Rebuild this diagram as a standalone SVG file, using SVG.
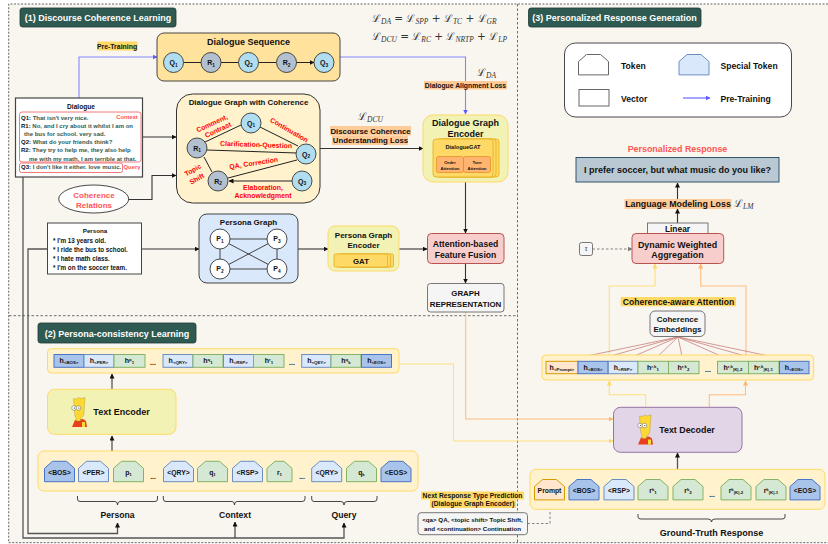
<svg xmlns="http://www.w3.org/2000/svg" xmlns:xlink="http://www.w3.org/1999/xlink" width="828" height="544" viewBox="0 0 828 544">
<style>
text{font-family:"Liberation Sans",Arial,sans-serif;font-weight:700;fill:#111;text-anchor:middle}
.title{fill:#fff;font-size:9px}
.tbox{fill:#2f5a52;stroke:#1d3b36;stroke-width:.8}
.l{text-anchor:start}
.panel{fill:#fff2cc;stroke:#ffd966;stroke-width:1}
.y{fill:#f1f2b4;stroke:#ffd966;stroke-width:1}
.gold{fill:#ffd966;stroke:#e6ac1a;stroke-width:.8}
.pink{fill:#f8cecc;stroke:#b85450;stroke-width:1}
.gray{fill:#f5f5f5;stroke:#777;stroke-width:1}
.q{fill:#b1ddf0;stroke:#222;stroke-width:.8}
.r{fill:#b3c0d0;stroke:#222;stroke-width:.8}
.p{fill:#fff;stroke:#222;stroke-width:.8}
.n{font-size:7px}
.red{fill:#f00;font-size:6.9px}
.rs{fill:#f55}
.e{fill:none;stroke:#222;stroke-width:1;marker-end:url(#k)}
.pe{fill:none;stroke:#444;stroke-width:1}
.c{fill:none;stroke:#333;stroke-width:1.100;marker-end:url(#k)}
.c2{fill:none;stroke:#555;stroke-width:1.300}
.blue{fill:none;stroke:#8585ff;stroke-width:1.100;marker-end:url(#b)}
.oran{fill:none;stroke:#ffbe80;stroke-width:1.100;marker-end:url(#o)}
.yel{fill:none;stroke:#ffdf80;stroke-width:1.100;marker-end:url(#yy)}
.dash{fill:none;stroke:#777;stroke-width:.9;stroke-dasharray:2.5 2;marker-end:url(#g)}
.hl{fill:#ffcc99}
.hy{fill:#ffd966}
.sb{fill:#dae8fc;stroke:#6c8ebf;stroke-width:1}
.db{fill:#a9c4eb;stroke:#4a74c9;stroke-width:1}
.gr{fill:#d5e8d4;stroke:#82b366;stroke-width:1}
.or{fill:#ffe6cc;stroke:#d79b00;stroke-width:1}
.t{font-size:6.800px}
.v{font-size:7px}
.s{font-size:4.400px}
.m{font-family:"DejaVu Serif","Liberation Serif",serif;font-weight:400;fill:#333;font-size:10.500px;text-anchor:start}
.i{font-family:"Liberation Serif",serif;font-style:italic;font-weight:400;font-size:7.500px;fill:#333}
.d{font-size:6px;text-anchor:start;fill:#2f5a52}
.dk{fill:#111}
.brace{fill:none;stroke:#333;stroke-width:.9}
.red2{fill:none;stroke:#c9807c;stroke-width:.8}
</style>
<defs>
<marker id="k" markerWidth="5" markerHeight="5" refX="4.5" refY="2.5" orient="auto" markerUnits="userSpaceOnUse"><path d="M0 0L5 2.5L0 5Z" fill="#111"/></marker>
<marker id="b" markerWidth="5" markerHeight="5" refX="4.5" refY="2.5" orient="auto" markerUnits="userSpaceOnUse"><path d="M0 0L5 2.5L0 5Z" fill="#5c5cff"/></marker>
<marker id="o" markerWidth="5" markerHeight="5" refX="4.5" refY="2.5" orient="auto" markerUnits="userSpaceOnUse"><path d="M0 0L5 2.5L0 5Z" fill="#ffb570"/></marker>
<marker id="yy" markerWidth="5" markerHeight="5" refX="4.5" refY="2.5" orient="auto" markerUnits="userSpaceOnUse"><path d="M0 0L5 2.5L0 5Z" fill="#ffd966"/></marker>
<marker id="g" markerWidth="5" markerHeight="5" refX="4.5" refY="2.5" orient="auto" markerUnits="userSpaceOnUse"><path d="M0 0L5 2.5L0 5Z" fill="#777"/></marker>
<path id="tok" d="M0 20.4V7L8 0H22L30 7V20.4Z"/>
<g id="bart">
<path d="M4 23L12 22L15 24L16 30H1Z" fill="#e8401c"/>
<path d="M11 25H14V30H11Z" fill="#fdd835"/>
<path d="M2.500 1.500L5 2L8 .5L10 1.500L14 .5L13 16C13 19 11 21 9.500 21.500V24H5V21C4 20 3.500 17 3.500 14Z" fill="#fdd835" stroke="#8a7a2a" stroke-width=".3"/>
<circle cx="3" cy="11" r="2.300" fill="#fff" stroke="#444" stroke-width=".4"/><circle cx="7.500" cy="11" r="2.300" fill="#fff" stroke="#444" stroke-width=".4"/>
<circle cx="3.300" cy="11" r=".6" fill="#222"/><circle cx="7.800" cy="11" r=".6" fill="#222"/>
</g>
</defs>
<rect x="9" y="4" width="819" height="539" fill="#f9f6ef"/>
<path d="M828 4H8.700V542.700H828" fill="none" stroke="#666" stroke-width="1" stroke-dasharray="2 1.500"/>
<path d="M517.500 4V544M9 315.700H517.500" fill="none" stroke="#333" stroke-width=".7" stroke-dasharray="2.500 2"/>

<g id="section-titles">
<g id="title1"><rect class="tbox" x="20" y="8" width="156" height="19" rx="2.500"/><text class="title" x="98" y="21">(1) Discourse Coherence Learning</text></g>
<g id="title2"><rect class="tbox" x="38" y="323" width="158" height="20" rx="2.500"/><text class="title" x="117" y="336.500">(2) Persona-consistency Learning</text></g>
<g id="title3"><rect class="tbox" x="528.500" y="8" width="172.500" height="19" rx="2.500"/><text class="title" x="614.500" y="21">(3) Personalized Response Generation</text></g>
</g>

<g id="formulas">
<text class="m" x="372" y="22">ℒ<tspan class="i" dy="2">DA</tspan><tspan dy="-2"> = ℒ</tspan><tspan class="i" dy="2">SPP</tspan><tspan dy="-2"> + ℒ</tspan><tspan class="i" dy="2">TC</tspan><tspan dy="-2"> + ℒ</tspan><tspan class="i" dy="2">GR</tspan></text>
<text class="m" x="372" y="40">ℒ<tspan class="i" dy="2">DCU</tspan><tspan dy="-2"> = ℒ</tspan><tspan class="i" dy="2">RC</tspan><tspan dy="-2"> + ℒ</tspan><tspan class="i" dy="2">NRTP</tspan><tspan dy="-2"> + ℒ</tspan><tspan class="i" dy="2">LP</tspan></text>
<text class="m" x="477" y="76">ℒ<tspan class="i" dy="2">DA</tspan></text>
<text class="m" x="358" y="120">ℒ<tspan class="i" dy="2">DCU</tspan></text>
</g>

<g id="connectors">
<path class="blue" d="M79 98V57H157"/>
<path class="blue" d="M340 57H465.500V114"/>
<path class="c" d="M142.500 137H176"/>
<path class="c" d="M129 199.500H152V175.500H176"/>
<path class="c" d="M320 148.500H423"/>
<path class="c" d="M465.500 182V233"/>
<path class="c" d="M465.500 263.500V283"/>
<path class="c" d="M141.500 249H199"/>
<path class="c" d="M298 249H328"/>
<path class="c" d="M399 249H427"/>
<path class="c2" d="M47.500 249H28V533.500H117.500V523" marker-end="url(#k)"/>
<path class="c2" d="M23 177V538H344V523" marker-end="url(#k)"/>
<path class="c" d="M235 538V522"/>
<path class="oran" d="M465.700 312V419H613"/>
<path class="yel" d="M399 364H453.500V441H613"/>
<path class="c2" d="M112 451V436" marker-end="url(#k)"/>
<path class="c2" d="M112 389V374" marker-end="url(#k)"/>
<path class="c2" d="M677.500 469V453" marker-end="url(#k)"/>
<path class="c" d="M677.500 223V209"/>
<path class="c" d="M677.500 199V183"/>
<path class="dash" d="M527.500 523.500H550V500.500"/>
<path class="dash" d="M592.500 249H632"/>
<path class="yel" d="M645.700 407V394.700H609.300V381"/>
<path class="oran" d="M709.300 407V394.700H745.500V381"/>
<path class="yel" d="M609.300 355V286H655V264"/>
<path class="oran" d="M746 355V286H700.700V264"/>
<path class="red2" d="M678 337L563 361M678 337L593 361M678 337L623 361M678 337L653 361M678 337L683 361M678 337L732 361M678 337L763 361M678 337L793 361"/>
</g>

<g id="pre-training-label"><rect class="hy" x="97" y="41.500" width="40.500" height="9"/><text x="117" y="48.500" font-size="6.900">Pre-Training</text></g>

<g id="dialogue-sequence">
<rect x="157" y="33" width="183" height="48" rx="7" fill="#ffe29c" stroke="#333" stroke-width=".9"/>
<text x="248.500" y="44.500" font-size="9">Dialogue Sequence</text>
<path class="e" d="M183.500 62.500H201M221 62.500H238.500M258.500 62.500H276M296 62.500H314"/>
<circle class="q" cx="173.500" cy="62.500" r="10"/><circle class="r" cx="211" cy="62.500" r="10"/><circle class="q" cx="248.500" cy="62.500" r="10"/><circle class="r" cx="286.500" cy="62.500" r="10"/><circle class="q" cx="324" cy="62.500" r="10"/>
<text class="n" x="173.500" y="65">Q<tspan font-size="4.800" dy="1.500">1</tspan></text><text class="n" x="211" y="65">R<tspan font-size="4.800" dy="1.500">1</tspan></text><text class="n" x="248.500" y="65">Q<tspan font-size="4.800" dy="1.500">2</tspan></text><text class="n" x="286.500" y="65">R<tspan font-size="4.800" dy="1.500">2</tspan></text><text class="n" x="324" y="65">Q<tspan font-size="4.800" dy="1.500">3</tspan></text>
</g>

<g id="dialogue-alignment-label"><rect class="hl" x="424" y="81" width="83" height="8.500"/><text x="465.500" y="87.800" font-size="6.800">Dialogue Alignment Loss</text></g>

<g id="dialogue">
<rect x="15.500" y="98" width="127" height="79" fill="#fff" stroke="#444" stroke-width="1.200"/>
<text x="81" y="108.500" font-size="6.600">Dialogue</text>
<rect x="19.500" y="112" width="121.500" height="50" rx="2.500" fill="none" stroke="#f06a6a" stroke-width=".9"/>
<rect x="19.500" y="163" width="103" height="9.500" rx="2" fill="none" stroke="#f06a6a" stroke-width=".9"/>
<text class="d" x="21" y="119.500"><tspan class="dk">Q1:</tspan> That isn't very nice.</text>
<text class="d" x="21" y="127.700"><tspan class="dk">R1:</tspan> No, and I cry about it whilst I am on</text>
<text class="d" x="24" y="136">the bus for school. very sad.</text>
<text class="d" x="21" y="144"><tspan class="dk">Q2:</tspan> What do your friends think?</text>
<text class="d" x="21" y="152.300"><tspan class="dk">R2:</tspan> They try to help me, they also help</text>
<text class="d" x="29" y="160.500">me with my math, I am terrible at that.</text>
<text class="d" x="21" y="169.200"><tspan class="dk">Q3:</tspan> I don't like it either. love music.</text>
<text class="rs" x="127" y="119.300" font-size="5.800">Context</text>
<text class="rs" x="132" y="169.200" font-size="5.800">Query</text>
</g>

<g id="coherence-relations">
<ellipse cx="93.700" cy="199" rx="35" ry="14" fill="#fff" stroke="#333" stroke-width=".9"/>
<text class="rs" x="94" y="197.500" font-size="8">Coherence</text><text class="rs" x="94" y="207.500" font-size="8">Relations</text>
</g>

<g id="dialogue-graph">
<rect x="176.500" y="94" width="143.500" height="109" rx="16" fill="#fff2cc" stroke="#333" stroke-width="1"/>
<text x="248.500" y="104.500" font-size="7.900">Dialogue Graph with Coherence</text>
<path class="e" d="M205 142L241 125M298 146L260 127M297 153L207 150M228 178L297 160M212 172L204 157M292 181L229 181"/>
<circle class="q" cx="251" cy="123" r="10"/><circle class="r" cx="197" cy="148" r="10"/><circle class="q" cx="306" cy="154" r="10"/><circle class="r" cx="218" cy="181" r="10"/><circle class="q" cx="302" cy="181" r="10"/>
<text class="n" x="251" y="125.500">Q<tspan font-size="4.800" dy="1.500">1</tspan></text><text class="n" x="197" y="150.500">R<tspan font-size="4.800" dy="1.500">1</tspan></text><text class="n" x="306" y="156.500">Q<tspan font-size="4.800" dy="1.500">2</tspan></text><text class="n" x="218" y="183.500">R<tspan font-size="4.800" dy="1.500">2</tspan></text><text class="n" x="302" y="183.500">Q<tspan font-size="4.800" dy="1.500">3</tspan></text>
<text class="red" transform="translate(213,125.500) rotate(-25)">Comment,</text>
<text class="red" transform="translate(219,132) rotate(-25)">Contrast</text>
<text class="red" transform="translate(288,132) rotate(30)">Continuation</text>
<text class="red" transform="translate(256,147) rotate(2)">Clarification-Question</text>
<text class="red" transform="translate(254,165.500) rotate(-9)">QA, Correction</text>
<text class="red" transform="translate(194,172) rotate(-30)">Topic</text>
<text class="red" transform="translate(198,181) rotate(-30)">Shift</text>
<text class="red" x="263" y="189.500">Elaboration,</text>
<text class="red" x="263" y="197.800">Acknowledgment</text>
</g>

<g id="dcu-label"><rect class="hl" x="330" y="126" width="81" height="9.500"/><rect class="hl" x="332" y="135.500" width="76" height="9.500"/><text x="370.500" y="133.500" font-size="7.800">Discourse Coherence</text><text x="370.500" y="143" font-size="7.800">Understanding Loss</text></g>

<g id="dialogue-graph-encoder">
<rect class="y" x="423" y="115" width="85" height="67" rx="10"/>
<text x="465.500" y="125.500" font-size="9">Dialogue Graph</text><text x="465.500" y="137" font-size="9">Encoder</text>
<rect class="gold" x="439" y="139" width="60" height="38" rx="3"/><rect class="gold" x="436" y="139" width="60" height="38" rx="3"/><rect class="gold" x="433" y="139" width="60" height="38" rx="3"/>
<text x="463" y="148.500" font-size="5.600">DialogueGAT</text>
<rect x="436.500" y="156.500" width="27" height="16" rx="2" fill="#ffb570" stroke="#e08a1e" stroke-width=".7"/>
<rect x="463.500" y="156.500" width="27" height="16" rx="2" fill="#ffb570" stroke="#e08a1e" stroke-width=".7"/>
<text x="450" y="163.500" font-size="4.300">Order</text><text x="450" y="169.500" font-size="4.300">Attention</text>
<text x="477" y="163.500" font-size="4.300">Turn</text><text x="477" y="169.500" font-size="4.300">Attention</text>
</g>

<g id="persona">
<rect x="47.500" y="223" width="94" height="51" fill="#fff" stroke="#444" stroke-width="1"/>
<text x="95" y="232.500" font-size="6.200">Persona</text>
<text class="l" x="53" y="243" font-size="6.300">* I'm 13 years old.</text>
<text class="l" x="53" y="252" font-size="6.300">* I ride the bus to school.</text>
<text class="l" x="53" y="261" font-size="6.300">* I hate math class.</text>
<text class="l" x="53" y="270" font-size="6.300">* I'm on the soccer team.</text>
</g>

<g id="persona-graph">
<rect x="199" y="214" width="99" height="69" rx="8" fill="#dae8fc" stroke="#444" stroke-width="1"/>
<text x="248.500" y="224.500" font-size="8">Persona Graph</text>
<path class="pe" d="M220 239H277M220 239V269M277 239V269M220 269H277M220 239L277 269M220 269L277 239"/>
<circle class="p" cx="220" cy="239" r="10"/><circle class="p" cx="277" cy="239" r="10"/><circle class="p" cx="220" cy="269" r="10"/><circle class="p" cx="277" cy="269" r="10"/>
<text class="n" x="220" y="241">P<tspan font-size="4.800" dy="1.500">1</tspan></text><text class="n" x="277" y="241">P<tspan font-size="4.800" dy="1.500">3</tspan></text><text class="n" x="220" y="271">P<tspan font-size="4.800" dy="1.500">2</tspan></text><text class="n" x="277" y="271">P<tspan font-size="4.800" dy="1.500">4</tspan></text>
</g>

<g id="persona-graph-encoder">
<rect class="y" x="328" y="226" width="71" height="45" rx="7"/>
<text x="363.500" y="237.500" font-size="8">Persona Graph</text><text x="363.500" y="247.500" font-size="8">Encoder</text>
<rect class="gold" x="340" y="254" width="53.500" height="13" rx="1.500"/><rect class="gold" x="337" y="254" width="53.500" height="13" rx="1.500"/><rect class="gold" x="334" y="254" width="53.500" height="13" rx="1.500"/>
<text x="361" y="263.500" font-size="7.800">GAT</text>
</g>

<g id="feature-fusion"><rect class="pink" x="427.500" y="233.500" width="76.500" height="30" rx="4"/><text x="465.500" y="247" font-size="8.600">Attention-based</text><text x="465.500" y="257.500" font-size="8.600">Feature Fusion</text></g>
<g id="graph-representation"><rect class="gray" x="427.500" y="283.500" width="76.500" height="28.500" rx="3"/><text x="465.500" y="295.500" font-size="7.900">GRAPH</text><text x="465.500" y="306.500" font-size="7.900">REPRESENTATION</text></g>

<g id="persona-vectors">
<rect class="panel" x="47.500" y="348.700" width="351.500" height="24.300" rx="4"/>
<rect class="db" x="54" y="354.500" width="30" height="12.800"/><rect class="sb" x="84" y="354.500" width="30" height="12.800"/><rect class="gr" x="114" y="354.500" width="31" height="12.800"/>
<rect class="sb" x="163" y="354.500" width="30" height="12.800"/><rect class="gr" x="193" y="354.500" width="30" height="12.800"/><rect class="sb" x="223.500" y="354.500" width="30" height="12.800"/><rect class="gr" x="253.500" y="354.500" width="30.500" height="12.800"/>
<rect class="sb" x="301.700" y="354.500" width="29.300" height="12.800"/><rect class="gr" x="331" y="354.500" width="30" height="12.800"/><rect class="db" x="361.500" y="354.500" width="30" height="12.800"/>
<text class="v" x="69" y="362.500">h<tspan class="s" dy="1.500">&lt;BOS&gt;</tspan></text>
<text class="v" x="99" y="362.500">h<tspan class="s" dy="1.500">&lt;PER&gt;</tspan></text>
<text class="v" x="129.500" y="362.500">h<tspan class="s" dy="-1.500">p</tspan><tspan class="s" dy="3">1</tspan></text>
<text class="v" x="153" y="365">...</text>
<text class="v" x="178" y="362.500">h<tspan class="s" dy="1.500">&lt;QRY&gt;</tspan></text>
<text class="v" x="208" y="362.500">h<tspan class="s" dy="-1.500">q</tspan><tspan class="s" dy="3">1</tspan></text>
<text class="v" x="238.500" y="362.500">h<tspan class="s" dy="1.500">&lt;RSP&gt;</tspan></text>
<text class="v" x="269" y="362.500">h<tspan class="s" dy="-1.500">r</tspan><tspan class="s" dy="3">1</tspan></text>
<text class="v" x="292" y="365">...</text>
<text class="v" x="316.500" y="362.500">h<tspan class="s" dy="1.500">&lt;QEY&gt;</tspan></text>
<text class="v" x="346" y="362.500">h<tspan class="s" dy="-1.500">q</tspan><tspan class="s" dy="3">k</tspan></text>
<text class="v" x="376.500" y="362.500">h<tspan class="s" dy="1.500">&lt;EOS&gt;</tspan></text>
</g>

<g id="text-encoder"><rect class="y" x="47.500" y="389.300" width="128.500" height="45" rx="7"/><use xlink:href="#bart" href="#bart" x="71" y="397"/><text x="121.500" y="415" font-size="9">Text Encoder</text></g>

<g id="input-tokens">
<rect class="panel" x="38" y="451" width="380" height="40" rx="6"/>
<use class="db" href="#tok" xlink:href="#tok" x="44.500" y="461.300"/><use class="sb" href="#tok" xlink:href="#tok" x="78.500" y="461.300"/><use class="gr" href="#tok" xlink:href="#tok" x="113.500" y="461.300"/>
<use class="sb" href="#tok" xlink:href="#tok" x="163.500" y="461.300"/><use class="gr" href="#tok" xlink:href="#tok" x="197.500" y="461.300"/><use class="sb" href="#tok" xlink:href="#tok" x="232.500" y="461.300"/>
<path class="gr" d="M267 481.700V468.300L275 461.300H284L292 468.300V481.700Z"/>
<use class="sb" href="#tok" xlink:href="#tok" x="311.700" y="461.300"/><use class="gr" href="#tok" xlink:href="#tok" x="346.500" y="461.300"/><use class="db" href="#tok" xlink:href="#tok" x="381" y="461.300"/>
<text class="t" x="59.500" y="474.800">&lt;BOS&gt;</text><text class="t" x="93.500" y="474.800">&lt;PER&gt;</text><text class="t" x="128.500" y="474.500">p<tspan class="s" dy="1">1</tspan></text><text class="t" x="153" y="479">...</text>
<text class="t" x="178.500" y="474.800">&lt;QRY&gt;</text><text class="t" x="212.500" y="474.500">q<tspan class="s" dy="1">1</tspan></text><text class="t" x="247.500" y="474.800">&lt;RSP&gt;</text><text class="t" x="279.500" y="474.500">r<tspan class="s" dy="1">1</tspan></text><text class="t" x="302" y="479">...</text>
<text class="t" x="326.700" y="474.800">&lt;QRY&gt;</text><text class="t" x="361.500" y="474.500">q<tspan class="s" dy="1">k</tspan></text><text class="t" x="396" y="474.800">&lt;EOS&gt;</text>
</g>

<g id="braces">
<path class="brace" d="M77.500 496V499Q77.500 501.500 80 501.500H115Q117.500 501.500 117.500 505Q117.500 501.500 120 501.500H155Q157.500 501.500 157.500 499V496"/>
<path class="brace" d="M163.300 496V499Q163.300 501.500 166 501.500H232Q234.500 501.500 234.500 505Q234.500 501.500 237 501.500H302Q305 501.500 305 499V496"/>
<path class="brace" d="M311.700 496V499Q311.700 501.500 314 501.500H341Q344 501.500 344 505Q344 501.500 347 501.500H374Q377 501.500 377 499V496"/>
<path class="brace" d="M638 514V517Q638 519 641 519H708Q711.500 519 711.500 522Q711.500 519 715 519H782Q785 519 785 517V514"/>
</g>
<g id="persona-input"><text x="117.500" y="518" font-size="8.600">Persona</text></g>
<g id="context-input"><text x="235" y="518" font-size="8.600">Context</text></g>
<g id="query-input"><text x="344" y="518" font-size="8.600">Query</text></g>

<g id="next-response">
<rect class="hy" x="421" y="491.500" width="103" height="8"/><rect class="hy" x="430" y="499.500" width="86" height="8.500"/>
<text x="472.500" y="497.800" font-size="6.700">Next Response Type Prediction</text><text x="473" y="506" font-size="6.700">(Dialogue Graph Encoder)</text>
<rect class="gray" x="418" y="512.700" width="109.500" height="22" rx="3"/>
<text x="472.500" y="521.500" font-size="6.200">&lt;qa&gt; QA, &lt;topic shift&gt; Topic Shift,</text><text x="472.500" y="530.500" font-size="6.200">and &lt;continuation&gt; Continuation</text>
</g>

<g id="legend">
<rect x="564.500" y="43" width="227" height="74" rx="11" fill="#fff" stroke="#333" stroke-width=".9"/>
<use href="#tok" xlink:href="#tok" x="578.500" y="54.500" fill="#fff" stroke="#666"/>
<use class="sb" href="#tok" xlink:href="#tok" x="679" y="54.500"/>
<rect x="579" y="89.500" width="30" height="16.500" fill="#fff" stroke="#666"/>
<path class="blue" style="stroke:#5c5cff" d="M683 98H710"/>
<text class="l" x="621" y="69" font-size="8.600">Token</text><text class="l" x="720.500" y="69" font-size="8.600">Special Token</text>
<text class="l" x="621" y="102" font-size="8.600">Vector</text><text class="l" x="720.500" y="101.500" font-size="8.600">Pre-Training</text>
</g>

<g id="personalized-response">
<text class="rs" x="677.500" y="151.500" font-size="8.900">Personalized Response</text>
<rect x="576" y="157.500" width="203" height="24.500" fill="#bac8d3" stroke="#23445d" stroke-width=".9"/>
<text x="677.500" y="173" font-size="9">I prefer soccer, but what music do you like?</text>
</g>

<g id="lm-loss"><rect class="hl" x="624.500" y="199" width="107" height="10"/><text x="678" y="207" font-size="8.800">Language Modeling Loss</text><text class="m" x="734" y="207">ℒ<tspan class="i" dy="2">LM</tspan></text></g>

<g id="linear"><rect class="gray" x="647.500" y="223" width="60.500" height="11"/><text x="677.500" y="232" font-size="8.400">Linear</text></g>
<g id="dynamic-weighted-aggregation"><rect class="pink" x="632" y="233.500" width="91.700" height="30" rx="4"/><text x="677.500" y="247.500" font-size="8.900">Dynamic Weighted</text><text x="677.500" y="258" font-size="8.900">Aggregation</text></g>
<g id="tau"><rect class="gray" x="579.500" y="242.500" width="13" height="13" rx="2"/><text class="i" x="586" y="251">τ</text></g>

<g id="coherence-attention-label"><rect class="hy" x="620.700" y="297" width="115.300" height="9.300"/><text x="678.500" y="304.700" font-size="8.600">Coherence-aware Attention</text></g>
<g id="coherence-embeddings"><rect class="gray" x="650" y="311" width="55" height="25.500" rx="5"/><text x="677.500" y="322" font-size="8">Coherence</text><text x="677.500" y="331.500" font-size="8">Embeddings</text></g>

<g id="response-vectors">
<rect class="panel" x="542" y="355" width="271.700" height="25" rx="4"/>
<rect class="or" x="546" y="361.300" width="32" height="12.400"/><rect class="db" x="578" y="361.300" width="30" height="12.400"/><rect class="sb" x="608.300" y="361.300" width="29.700" height="12.400"/><rect class="gr" x="638" y="361.300" width="30.500" height="12.400"/><rect class="gr" x="668.500" y="361.300" width="30.500" height="12.400"/>
<rect class="gr" x="717.500" y="361.300" width="31" height="12.400"/><rect class="gr" x="748.500" y="361.300" width="30.500" height="12.400"/><rect class="db" x="779.500" y="361.300" width="29.500" height="12.400"/>
<text class="v" x="562" y="369.500">h<tspan class="s" dy="1.500">&lt;Prompt&gt;</tspan></text>
<text class="v" x="593" y="369.500">h<tspan class="s" dy="1.500">&lt;BOS&gt;</tspan></text>
<text class="v" x="623" y="369.500">h<tspan class="s" dy="1.500">&lt;RSP&gt;</tspan></text>
<text class="v" x="653" y="369.500">h<tspan class="s" dy="-1.500">r,k</tspan><tspan class="s" dy="3">1</tspan></text>
<text class="v" x="683.500" y="369.500">h<tspan class="s" dy="-1.500">r,k</tspan><tspan class="s" dy="3">2</tspan></text>
<text class="v" x="708" y="372">...</text>
<text class="v" x="733" y="369.500">h<tspan class="s" dy="-1.500">r,k</tspan><tspan class="s" dy="3">|K|-2</tspan></text>
<text class="v" x="763.500" y="369.500">h<tspan class="s" dy="-1.500">r,k</tspan><tspan class="s" dy="3">|K|-1</tspan></text>
<text class="v" x="794" y="369.500">h<tspan class="s" dy="1.500">&lt;EOS&gt;</tspan></text>
</g>

<g id="text-decoder"><rect x="613.500" y="407.300" width="128.500" height="45" rx="7" fill="#e1d5e7" stroke="#9673a6" stroke-width="1"/><use href="#bart" xlink:href="#bart" x="637" y="414.500"/><text x="687" y="433" font-size="8.900">Text Decoder</text></g>

<g id="response-tokens">
<rect class="panel" x="530" y="469.300" width="295" height="40" rx="6"/>
<use class="or" href="#tok" xlink:href="#tok" x="534.500" y="479.500"/><use class="db" href="#tok" xlink:href="#tok" x="569" y="479.500"/><use class="sb" href="#tok" xlink:href="#tok" x="604" y="479.500"/><use class="gr" href="#tok" xlink:href="#tok" x="638" y="479.500"/><use class="gr" href="#tok" xlink:href="#tok" x="673" y="479.500"/><use class="gr" href="#tok" xlink:href="#tok" x="721" y="479.500"/><use class="gr" href="#tok" xlink:href="#tok" x="756" y="479.500"/><use class="db" href="#tok" xlink:href="#tok" x="790" y="479.500"/>
<text class="t" x="549.500" y="493">Prompt</text><text class="t" x="584" y="493">&lt;BOS&gt;</text><text class="t" x="619" y="493">&lt;RSP&gt;</text>
<text class="t" x="653" y="492.500">r<tspan class="s" dy="-1.500">k</tspan><tspan class="s" dy="3">1</tspan></text>
<text class="t" x="688" y="492.500">r<tspan class="s" dy="-1.500">k</tspan><tspan class="s" dy="3">2</tspan></text>
<text class="t" x="712" y="497">...</text>
<text class="t" x="736" y="492.500">r<tspan class="s" dy="-1.500">k</tspan><tspan class="s" dy="3">|K|-2</tspan></text>
<text class="t" x="771" y="492.500">r<tspan class="s" dy="-1.500">k</tspan><tspan class="s" dy="3">|K|-1</tspan></text>
<text class="t" x="805" y="493">&lt;EOS&gt;</text>
<text x="711.500" y="536" font-size="9">Ground-Truth Response</text>
</g>
</svg>
